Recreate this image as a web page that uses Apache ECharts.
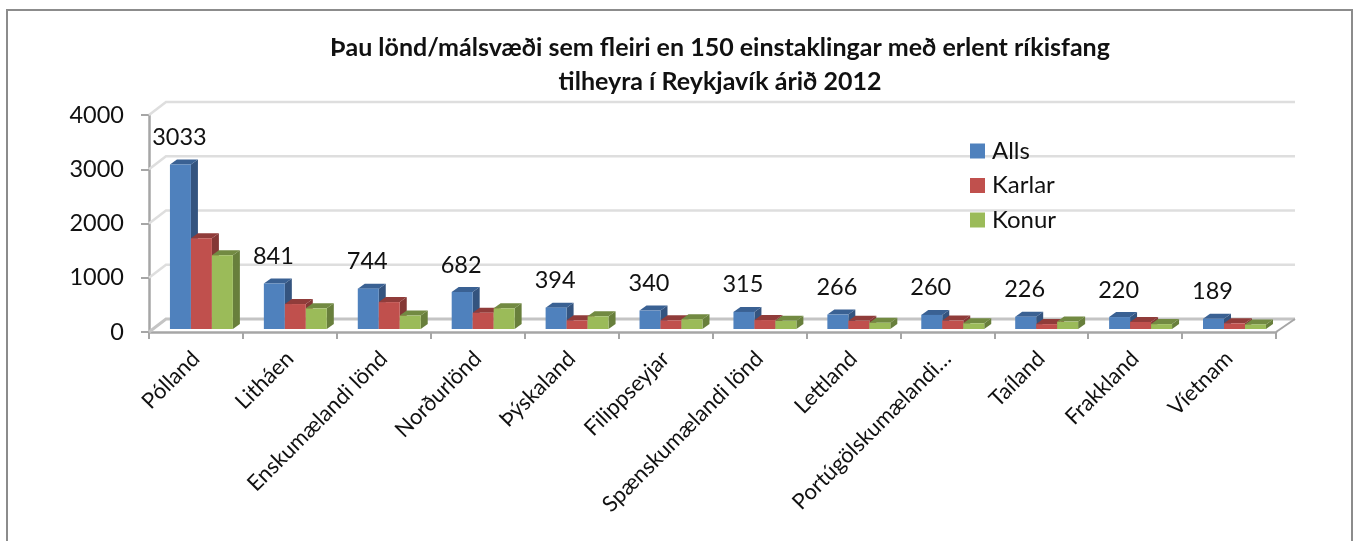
<!DOCTYPE html>
<html>
<head>
<meta charset="utf-8">
<style>
	html, body { margin: 0; padding: 0; background: #fff; }
	#chart { width: 1354px; height: 541px; }
</style>
<script src="https://cdn.jsdelivr.net/npm/echarts@6/dist/echarts.min.js"></script>
</head>
<body>
<div id="chart"></div>
<script>
const categories = ["Pólland", "Litháen", "Enskumælandi lönd", "Norðurlönd", "Þýskaland", "Filippseyjar", "Spænskumælandi lönd", "Lettland", "Portúgölskumælandi…", "Taíland", "Frakkland", "Víetnam"];
const alls = [3033, 841, 744, 682, 394, 340, 315, 266, 260, 226, 220, 189];
const karlar = [1673, 460, 496, 300, 160, 160, 165, 150, 155, 90, 130, 105];
const konur = [1360, 381, 248, 382, 234, 180, 150, 116, 105, 136, 90, 84];
const yTicks = [0, 1000, 2000, 3000, 4000];

const fontName = "Lato, sans-serif";
const textColor = "#111";
// bar placement inside a category band, as fractions of the band width
const barFrac = 0.2234;
const startFrac = -0.277;
const depthX = 7, depthY = 5, liftY = 3;
const wallX = 17, wallY = 13;

const barSeries = (name, values, idx, front, side, top, showLabel) => ({
	type: "custom",
	name: name,
	itemStyle: { color: front },
	data: values.map((v, i) => [i, v]),
	encode: { x: 0, y: 1 },
	clip: false,
	z: 5,
	renderItem: (params, api) => {
		const p = api.coord([api.value(0), api.value(1)]);
		const base = api.coord([api.value(0), 0]);
		const band = api.size([1, 0])[0];
		const w = band * barFrac;
		const x = p[0] + band * startFrac + idx * w;
		const y = p[1] - liftY;
		const y0 = base[1] - liftY;
		const children = [
			{
				type: "polygon",
				shape: { points: [[x + w, y], [x + w + depthX, y - depthY], [x + w + depthX, y0 - depthY], [x + w, y0]] },
				style: { fill: side },
			},
			{
				type: "polygon",
				shape: { points: [[x, y], [x + depthX, y - depthY], [x + w + depthX, y - depthY], [x + w, y]] },
				style: { fill: top },
			},
			{
				type: "rect",
				shape: { x: x, y: y, width: w, height: y0 - y },
				style: { fill: front },
			},
		];
		if (showLabel) {
			children.push({
				type: "text",
				style: {
					text: String(api.value(1)),
					x: x + w / 2 - 1,
					y: y - 27,
					align: "center",
					verticalAlign: "middle",
					font: "23.5px " + fontName,
					fill: textColor,
				},
			});
		}
		return { type: "group", children: children };
	},
});

const wallSeries = {
	type: "custom",
	name: "wall",
	silent: true,
	data: yTicks.map((v) => [0, v]),
	encode: { x: 0, y: 1 },
	clip: false,
	z: 1,
	renderItem: (params, api) => {
		const p = api.coord([0, api.value(1)]);
		const last = api.coord([categories.length - 1, api.value(1)]);
		const band = api.size([1, 0])[0];
		const left = p[0] - band / 2;
		const right = last[0] + band / 2;
		const isFloor = api.value(1) === 0;
		const children = [
			{
				type: "polyline",
				shape: { points: [[left, p[1]], [left + wallX, p[1] - wallY], [right + wallX + 2, p[1] - wallY]] },
				style: { fill: "none", stroke: isFloor ? "#c4c4c4" : "#dedede", lineWidth: isFloor ? 3 : 2.5 },
			},
		];
		if (isFloor) {
			children.push({
				type: "line",
				shape: { x1: right, y1: p[1], x2: right + wallX + 2, y2: p[1] - wallY },
				style: { stroke: "#a6a6a6", lineWidth: 2 },
			});
		}
		return { type: "group", children: children };
	},
};

const myChart = echarts.init(document.getElementById("chart"), null, { renderer: "canvas" });
myChart.setOption({
	animation: false,
	backgroundColor: "#fff",
	title: {
		text: "Þau lönd/málsvæði sem fleiri en 150 einstaklingar með erlent ríkisfang\ntilheyra í Reykjavík árið 2012",
		left: 715,
		top: 26,
		textAlign: "center",
		textStyle: {
			fontFamily: fontName,
			fontWeight: "bold",
			fontSize: 25,
			lineHeight: 34,
			color: textColor,
		},
	},
	legend: {
		data: ["Alls", "Karlar", "Konur"],
		orient: "vertical",
		left: 970,
		top: 138,
		icon: "rect",
		itemWidth: 15,
		itemHeight: 15,
		itemGap: 8.5,
		textStyle: {
			fontFamily: fontName,
			fontSize: 24,
			lineHeight: 26,
			color: textColor,
			padding: [0, 0, 0, 2],
		},
		padding: 0,
	},
	grid: { left: 149, top: 115, width: 1127, height: 217 },
	xAxis: {
		type: "category",
		data: categories,
		axisLine: { lineStyle: { color: "#a6a6a6", width: 2.5 } },
		axisTick: { show: true, length: 7, lineStyle: { color: "#a6a6a6", width: 2 } },
		axisLabel: {
			interval: 0,
			rotate: 45,
			margin: 23,
			fontFamily: fontName,
			fontSize: 22,
			color: textColor,
		},
	},
	yAxis: {
		type: "value",
		min: 0,
		max: 4000,
		interval: 1000,
		splitLine: { show: false },
		axisLine: { show: true, lineStyle: { color: "#a6a6a6", width: 2.5 } },
		axisTick: { show: true, length: 8, lineStyle: { color: "#a6a6a6", width: 2 } },
		axisLabel: {
			margin: 25,
			formatter: (v) => String(v),
			fontFamily: fontName,
			fontSize: 23.5,
			color: textColor,
		},
	},
	graphic: [
		{
			type: "rect",
			silent: true,
			z: 0,
			shape: { x: 7, y: 10, width: 1345, height: 600 },
			style: { fill: "none", stroke: "#8c8c8c", lineWidth: 2 },
		},
	],
	series: [
		wallSeries,
		barSeries("Alls", alls, 0, "#4f81bd", "#34547f", "#3a6193", true),
		barSeries("Karlar", karlar, 1, "#c0504d", "#843836", "#903c3a", false),
		barSeries("Konur", konur, 2, "#9bbb59", "#687f3c", "#728a42", false),
	],
});
</script>
</body>
</html>
